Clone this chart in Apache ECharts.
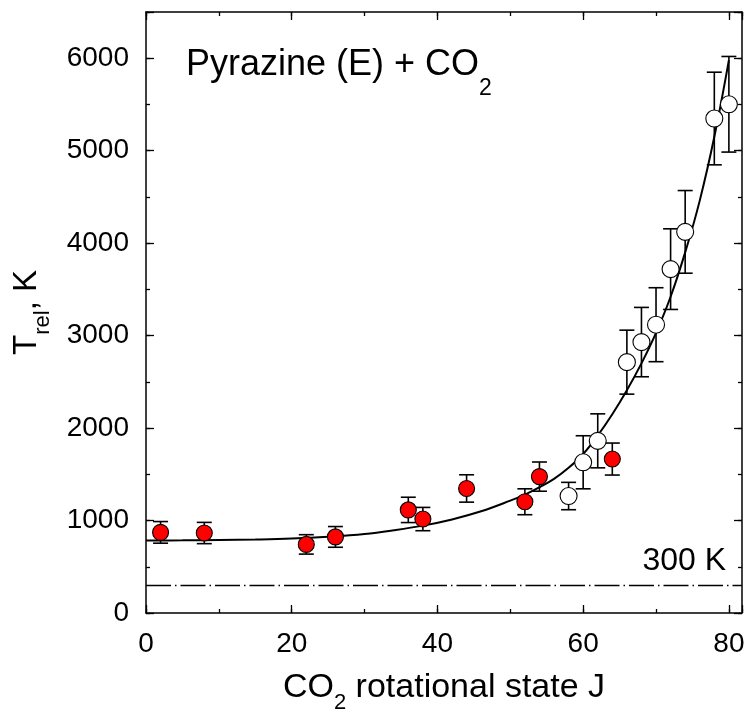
<!DOCTYPE html>
<html>
<head>
<meta charset="utf-8">
<script src="https://cdn.jsdelivr.net/npm/echarts@6/dist/echarts.min.js"></script>
<style>
  html, body { margin: 0; padding: 0; background: #fff; }
  #chart { width: 750px; height: 711px; }
</style>
</head>
<body>
<div id="chart"></div>
<script>
// Rotational state J of CO2 and relative temperature T_rel (K), with uncertainties
// Filled red points
const filledJ   = [2, 8, 22, 26, 36, 38, 44, 52, 54, 64];
const filledT   = [872, 865, 742, 823, 1115, 1016, 1347, 1203, 1475, 1665];
const filledErr = [117, 115, 105, 112, 137, 126, 148, 140, 158, 173];

// Open points
const openJ   = [58, 60, 62, 66, 68, 70, 72, 74, 78, 80];
const openT   = [1265, 1630, 1862, 2713, 2930, 3118, 3719, 4122, 5348, 5502];
const openErr = [148, 287, 292, 346, 375, 400, 436, 447, 501, 517];

// Fitted curve through the points
const fitJ = [0, 5, 10, 15, 20, 25, 30, 34, 38, 42, 46, 50, 52, 54, 56, 58, 60, 62, 64, 66, 68, 70, 72, 74, 76, 78, 80];
const fitT = [785, 786, 790, 795, 805, 825, 855, 895, 945, 1012, 1100, 1215, 1280, 1360, 1450, 1570, 1720, 1920, 2150, 2410, 2700, 3030, 3420, 3900, 4460, 5150, 5980];

// Reference temperature line
const roomT = 300;
const roomLabel = '300 K';

const xTicks = [0, 20, 40, 60, 80];
const yTicks = [0, 1000, 2000, 3000, 4000, 5000, 6000];

const FONT = "'Liberation Sans', Arial, sans-serif";
const X_MIN = 0, X_MAX = 81.8, Y_MIN = 0, Y_MAX = 6500;

const chart = echarts.init(document.getElementById('chart'), null, { renderer: 'canvas' });

function pairs(xs, ys, es) {
  return xs.map((x, i) => es ? [x, ys[i], es[i]] : [x, ys[i]]);
}

function errorBars(params, api) {
  const x = api.value(0), y = api.value(1), e = api.value(2);
  const top = api.coord([x, y + e]);
  const bot = api.coord([x, y - e]);
  const half = 7.5;
  const style = { stroke: '#000', lineWidth: 1.6 };
  return {
    type: 'group',
    children: [
      { type: 'line', shape: { x1: top[0], y1: top[1], x2: bot[0], y2: bot[1] }, style },
      { type: 'line', shape: { x1: top[0] - half, y1: top[1], x2: top[0] + half, y2: top[1] }, style },
      { type: 'line', shape: { x1: bot[0] - half, y1: bot[1], x2: bot[0] + half, y2: bot[1] }, style }
    ]
  };
}

const lineBlack = { color: '#000', width: 1.5 };

function xAxisDef(position, interval, tickLen, showLine, showLabel) {
  return {
    type: 'value', position, min: X_MIN, max: X_MAX, interval,
    axisLine: { show: showLine, onZero: false, lineStyle: lineBlack },
    axisTick: { show: true, inside: true, length: tickLen, lineStyle: { color: '#000', width: 1.3 } },
    axisLabel: {
      show: showLabel, margin: 17, color: '#000', fontFamily: FONT, fontSize: 28,
      formatter: v => xTicks.includes(v) ? String(v) : ''
    },
    splitLine: { show: false }
  };
}
function yAxisDef(position, interval, tickLen, showLine, showLabel) {
  return {
    type: 'value', position, min: Y_MIN, max: Y_MAX, interval,
    axisLine: { show: showLine, onZero: false, lineStyle: lineBlack },
    axisTick: { show: true, inside: true, length: tickLen, lineStyle: { color: '#000', width: 1.3 } },
    axisLabel: {
      show: showLabel, margin: 17, color: '#000', fontFamily: FONT, fontSize: 28,
      formatter: v => yTicks.includes(v) ? String(v) : ''
    },
    splitLine: { show: false }
  };
}

const xMain = xAxisDef('bottom', 20, 8, true, true);
xMain.name = '{m|CO}{s|2}{m| rotational state J}';
xMain.nameLocation = 'middle';
xMain.nameGap = 49;
xMain.nameTextStyle = {
  color: '#000', fontFamily: FONT,
  rich: {
    m: { fontSize: 34, fontFamily: FONT, color: '#000' },
    s: { fontSize: 22, fontFamily: FONT, color: '#000', padding: [30, 0, 0, 0] }
  }
};

const yMain = yAxisDef('left', 1000, 8, true, true);
yMain.name = '{m|T}{s|rel}{m|, K}';
yMain.nameLocation = 'middle';
yMain.nameRotate = 90;
yMain.nameGap = 92;
yMain.nameTextStyle = {
  color: '#000', fontFamily: FONT,
  rich: {
    m: { fontSize: 33, fontFamily: FONT, color: '#000' },
    s: { fontSize: 22, fontFamily: FONT, color: '#000', padding: [32, 0, 0, 0] }
  }
};

const option = {
  backgroundColor: '#fff',
  animation: false,
  title: {
    text: '{m|Pyrazine (E) + CO}{s|2}',
    left: 181, top: 26,
    textStyle: {
      fontWeight: 'normal',
      rich: {
        m: { fontSize: 36, fontFamily: FONT, color: '#000', fontWeight: 'normal' },
        s: { fontSize: 23, fontFamily: FONT, color: '#000', fontWeight: 'normal', padding: [46, 0, 0, 0] }
      }
    }
  },
  grid: { left: 146, right: 8, top: 12, bottom: 98, containLabel: false, outerBoundsMode: 'none' },
  xAxis: [
    xMain,
    xAxisDef('bottom', 10, 4, false, false),
    xAxisDef('top', 20, 8, true, false),
    xAxisDef('top', 10, 4, false, false)
  ],
  yAxis: [
    yMain,
    yAxisDef('left', 500, 4, false, false),
    yAxisDef('right', 1000, 8, true, false),
    yAxisDef('right', 500, 4, false, false)
  ],
  series: [
    {
      name: 'fit', type: 'line', data: pairs(fitJ, fitT),
      showSymbol: false, smooth: 0.4, z: 3,
      lineStyle: { color: '#000', width: 2 },
      markLine: {
        silent: true, symbol: 'none',
        lineStyle: { color: '#000', width: 1.3, type: [25, 4, 1.5, 4] },
        label: {
          show: true, position: 'insideEndTop', formatter: roomLabel,
          color: '#000', fontFamily: FONT, fontSize: 32, distance: [16, 8]
        },
        data: [{ yAxis: roomT }]
      }
    },
    {
      name: 'filled-err', type: 'custom', renderItem: errorBars, z: 2,
      data: pairs(filledJ, filledT, filledErr)
    },
    {
      name: 'open-err', type: 'custom', renderItem: errorBars, z: 2,
      data: pairs(openJ, openT, openErr)
    },
    {
      name: 'filled', type: 'scatter', data: pairs(filledJ, filledT), z: 5,
      symbol: 'circle', symbolSize: 16,
      itemStyle: { color: '#ff0000', borderColor: '#000', borderWidth: 1.1, opacity: 1 }
    },
    {
      name: 'open', type: 'scatter', data: pairs(openJ, openT), z: 5,
      symbol: 'circle', symbolSize: 17,
      itemStyle: { color: '#ffffff', borderColor: '#000', borderWidth: 1.1, opacity: 1 }
    }
  ]
};

chart.setOption(option);
</script>
</body>
</html>
